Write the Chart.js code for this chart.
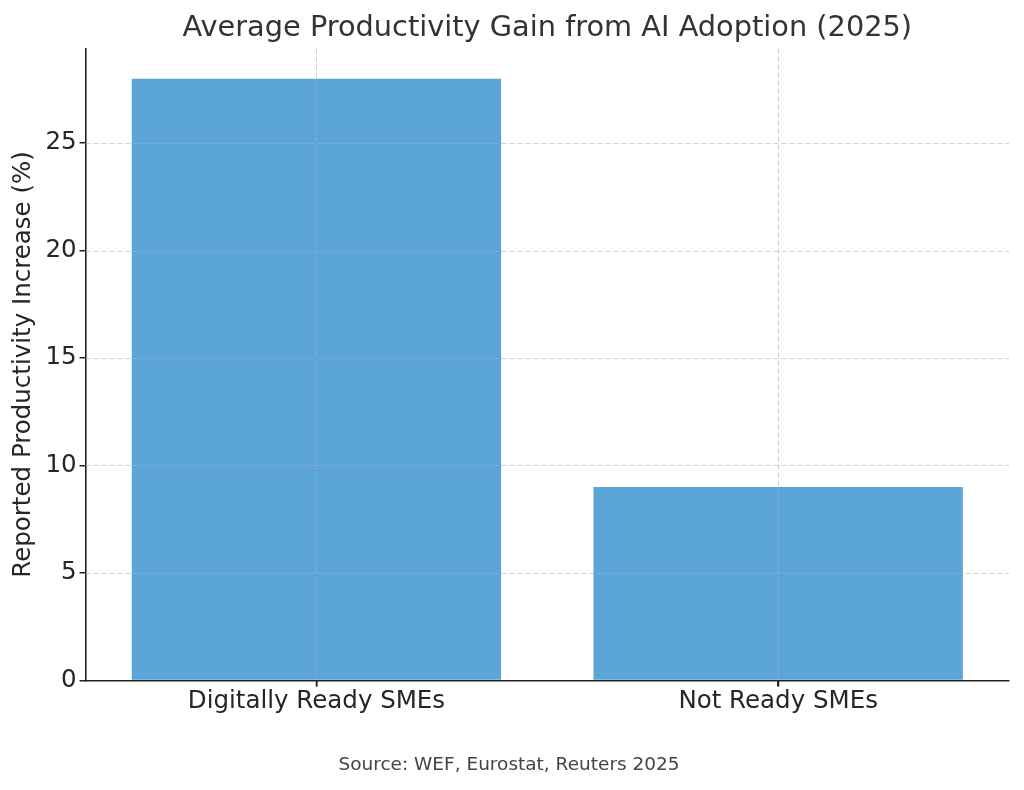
<!DOCTYPE html>
<html>
<head>
  <meta charset="utf-8">
  <title>Average Productivity Gain from AI Adoption (2025)</title>
  <script src="https://cdn.jsdelivr.net/npm/chart.js@4.4.1/dist/chart.umd.min.js"></script>
  <style>
    html, body { margin: 0; padding: 0; background: #fff; }
    #wrap { width: 1024px; height: 790px; }
  </style>
</head>
<body>
  <div id="wrap"><canvas id="myChart" width="1024" height="790"></canvas></div>
  <script type="text/javascript">
    // data
    var categories = ["Digitally Ready SMEs", "Not Ready SMEs"];
    var gains = [28, 9];
    var yTicks = [0, 5, 10, 15, 20, 25];

    var BAR_COLOR = "#5ba5d8";
    var FONT = "'DejaVu Sans', sans-serif";

    // matplotlib draws the dashed grid over the bars, so do it after datasets
    var gridOnTop = {
      id: 'gridOnTop',
      afterDatasetsDraw: function(chart) {
        var ctx = chart.ctx, area = chart.chartArea;
        var xs = chart.scales.x, ys = chart.scales.y;
        ctx.save();
        ctx.strokeStyle = "rgba(176,176,176,0.6)";
        ctx.lineWidth = 1;
        ctx.setLineDash([5, 3]);
        ys.ticks.forEach(function(t) {
          if (t.value === 0) return;
          var y = Math.round(ys.getPixelForValue(t.value)) + 0.5;
          ctx.beginPath();
          ctx.moveTo(area.left, y);
          ctx.lineTo(area.right, y);
          ctx.stroke();
        });
        xs.ticks.forEach(function(t, i) {
          var x = Math.round(xs.getPixelForTick(i)) + 0.5;
          ctx.beginPath();
          ctx.moveTo(x, area.top);
          ctx.lineTo(x, area.bottom);
          ctx.stroke();
        });
        ctx.restore();
      },
      afterDraw: function(chart) {
        // little outward tick marks under each category
        var ctx = chart.ctx, area = chart.chartArea, xs = chart.scales.x;
        ctx.save();
        ctx.strokeStyle = "#222";
        ctx.lineWidth = 1.5;
        xs.ticks.forEach(function(t, i) {
          var x = Math.round(xs.getPixelForTick(i)) + 0.5;
          ctx.beginPath();
          ctx.moveTo(x, area.bottom);
          ctx.lineTo(x, area.bottom + 6);
          ctx.stroke();
        });
        ctx.restore();
      }
    };

    var ctx = document.getElementById("myChart");
    var myBarChart = new Chart(ctx, {
      type: 'bar',
      data: {
        labels: categories,
        datasets: [{
          label: "Reported Productivity Increase (%)",
          data: gains,
          backgroundColor: BAR_COLOR,
          borderWidth: 0,
          categoryPercentage: 1.0,
          barPercentage: 0.8
        }]
      },
      options: {
        responsive: false,
        animation: false,
        devicePixelRatio: 1,
        layout: { padding: { left: 9, right: 15, top: 0, bottom: 10 } },
        plugins: {
          legend: { display: false },
          tooltip: { enabled: false },
          title: {
            display: true,
            fullSize: false,
            text: "Average Productivity Gain from AI Adoption (2025)",
            color: "#333333",
            font: { family: FONT, size: 28.8, weight: 'normal' },
            padding: { top: 11, bottom: 3 }
          },
          subtitle: {
            display: true,
            position: 'bottom',
            text: "Source: WEF, Eurostat, Reuters 2025",
            color: "#444444",
            font: { family: FONT, size: 18.5, weight: 'normal' },
            padding: { top: 36, bottom: 4 }
          }
        },
        scales: {
          x: {
            grid: { offset: false, drawOnChartArea: false, drawTicks: true, tickLength: 6, color: "#222", lineWidth: 1.5 },
            border: { display: true, color: "#222", width: 1.6 },
            ticks: { color: "#262626", font: { family: FONT, size: 24.5 }, padding: 1 }
          },
          y: {
            min: 0,
            max: 29.4,
            afterBuildTicks: function(scale) {
              scale.ticks = yTicks.map(function(v) { return { value: v }; });
            },
            grid: { drawOnChartArea: false, drawTicks: true, tickLength: 6, color: "#222", lineWidth: 1.5 },
            border: { display: true, color: "#222", width: 1.6 },
            ticks: { color: "#262626", font: { family: FONT, size: 24.5 }, padding: 3 },
            title: {
              display: true,
              text: "Reported Productivity Increase (%)",
              color: "#262626",
              font: { family: FONT, size: 24.5 },
              padding: { top: 0, bottom: 4 }
            }
          }
        }
      },
      plugins: [gridOnTop]
    });
  </script>
</body>
</html>
